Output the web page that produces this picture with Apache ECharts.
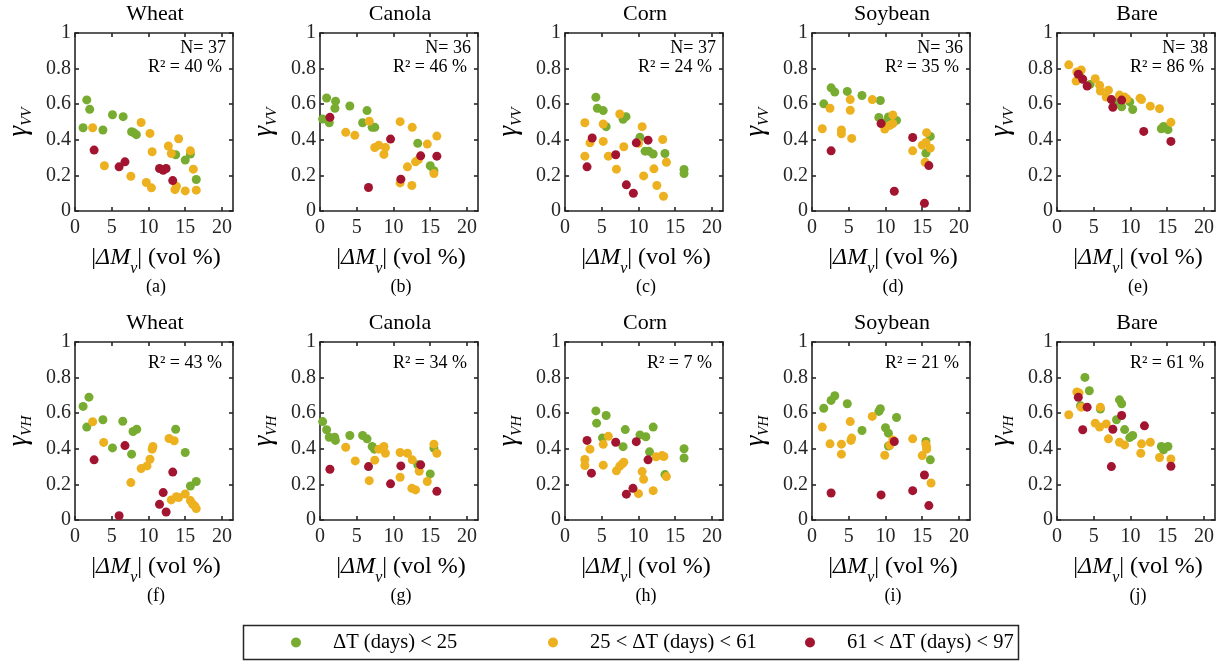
<!DOCTYPE html>
<html>
<head>
<meta charset="utf-8">
<script src="https://cdn.jsdelivr.net/npm/echarts@6/dist/echarts.min.js"></script>
<style>html,body{margin:0;padding:0;background:#fff}#c{width:1229px;height:662px}</style>
</head>
<body>
<div id="c"></div>
<script>
// ---------- DATA ----------
const crops = ['Wheat', 'Canola', 'Corn', 'Soybean', 'Bare'];
const pols = ['VV', 'VH'];
const nCounts = [37, 36, 37, 36, 38];
const r2VV = [40, 46, 24, 35, 86];
const r2VH = [43, 34, 7, 21, 61];
const captions = ['(a)', '(b)', '(c)', '(d)', '(e)', '(f)', '(g)', '(h)', '(i)', '(j)'];
const classNames = ['\u0394T (days) < 25', '25 < \u0394T (days) < 61', '61 < \u0394T (days) < 97'];
const xTicks = [0, 5, 10, 15, 20];
const yTicks = [0, 0.2, 0.4, 0.6, 0.8, 1];

// Wheat VV
const wheatVV_g = [[1.6,0.624],[2.0,0.571],[1.1,0.468],[3.8,0.455],[5.1,0.541],[6.55,0.53],[7.7,0.445],[8.0,0.44],[8.35,0.429],[13.7,0.316],[15.0,0.286],[15.7,0.32],[16.5,0.177]];
const wheatVV_o = [[2.4,0.468],[4.0,0.254],[7.6,0.195],[9.0,0.497],[10.2,0.436],[10.5,0.333],[9.7,0.16],[10.4,0.13],[12.7,0.365],[13.1,0.323],[14.1,0.406],[15.7,0.338],[16.1,0.235],[13.6,0.12],[13.8,0.139],[15.0,0.113],[16.5,0.117]];
const wheatVV_r = [[2.6,0.342],[6.0,0.248],[6.8,0.276],[11.5,0.239],[12.0,0.229],[12.4,0.239],[13.3,0.171]];
// Canola VV
const canolaVV_g = [[0.36,0.517],[0.9,0.635],[1.26,0.496],[2.03,0.577],[2.12,0.617],[4.06,0.59],[6.4,0.564],[5.8,0.496],[7.1,0.47],[7.45,0.47],[13.3,0.38],[15.0,0.254],[15.5,0.226]];
const canolaVV_o = [[3.5,0.442],[4.74,0.425],[6.7,0.504],[7.45,0.357],[8.0,0.37],[8.9,0.357],[8.7,0.318],[10.9,0.502],[12.55,0.47],[11.9,0.248],[13.0,0.276],[13.4,0.289],[14.6,0.376],[15.9,0.421],[15.5,0.21],[10.9,0.158],[12.5,0.143]];
const canolaVV_r = [[1.35,0.526],[9.6,0.404],[6.6,0.132],[11.0,0.179],[13.7,0.31],[15.9,0.308]];
// Corn VV
const cornVV_g = [[4.2,0.639],[4.4,0.577],[5.2,0.564],[5.6,0.474],[7.9,0.515],[8.3,0.53],[10.2,0.414],[10.9,0.336],[11.4,0.336],[12.0,0.32],[13.6,0.323],[16.2,0.233],[16.2,0.21]];
const cornVV_o = [[2.7,0.496],[2.7,0.308],[3.4,0.383],[5.2,0.489],[5.2,0.391],[5.9,0.308],[7.0,0.235],[7.45,0.545],[8.0,0.361],[10.0,0.38],[10.5,0.474],[10.7,0.197],[12.1,0.237],[12.5,0.143],[13.3,0.402],[13.8,0.274],[13.4,0.083]];
const cornVV_r = [[3.0,0.248],[3.7,0.41],[6.9,0.316],[8.35,0.147],[9.3,0.1],[9.7,0.383],[11.3,0.398]];
// Soybean VV
const soyVV_g = [[1.6,0.602],[2.6,0.692],[3.1,0.668],[4.8,0.672],[6.8,0.649],[9.3,0.621],[9.1,0.525],[10.4,0.528],[10.2,0.504],[11.5,0.509],[15.5,0.325],[16.1,0.419]];
const soyVV_o = [[1.4,0.462],[2.45,0.577],[4.0,0.455],[4.0,0.434],[5.2,0.626],[5.2,0.566],[5.4,0.408],[8.2,0.626],[9.9,0.46],[10.6,0.481],[11.0,0.491],[11.0,0.54],[13.7,0.338],[15.0,0.37],[15.5,0.385],[15.6,0.44],[16.1,0.353],[15.4,0.274]];
const soyVV_r = [[2.6,0.338],[9.4,0.491],[13.7,0.413],[15.9,0.255],[11.2,0.111],[15.3,0.043]];
// Bare VV
const bareVV_g = [[3.1,0.762],[3.2,0.745],[4.5,0.711],[8.0,0.613],[8.8,0.585],[9.9,0.613],[10.3,0.57],[14.2,0.462],[14.5,0.475],[15.1,0.457]];
const bareVV_o = [[1.6,0.821],[2.7,0.781],[3.0,0.77],[3.3,0.792],[2.6,0.73],[3.0,0.743],[5.2,0.743],[5.8,0.706],[5.9,0.674],[7.0,0.679],[6.7,0.64],[8.5,0.651],[9.2,0.64],[9.5,0.63],[11.3,0.634],[11.5,0.626],[12.7,0.589],[13.95,0.575],[15.5,0.498],[8.9,0.626]];
const bareVV_r = [[2.9,0.768],[3.5,0.74],[4.1,0.702],[7.4,0.626],[7.6,0.583],[8.8,0.623],[11.8,0.447],[15.5,0.391]];
// Wheat VH
const wheatVH_g = [[1.1,0.638],[1.9,0.69],[1.6,0.522],[3.8,0.563],[5.1,0.405],[6.5,0.555],[7.7,0.37],[7.9,0.497],[8.4,0.51],[13.7,0.51],[15.0,0.379],[15.7,0.191],[16.5,0.216]];
const wheatVH_o = [[2.4,0.552],[3.9,0.436],[7.6,0.21],[9.0,0.289],[9.8,0.304],[10.2,0.341],[10.5,0.398],[10.6,0.413],[12.8,0.458],[13.5,0.445],[13.1,0.113],[13.8,0.131],[14.1,0.126],[15.0,0.146],[15.7,0.109],[16.0,0.09],[16.3,0.079],[16.5,0.064]];
const wheatVH_r = [[2.6,0.338],[6.0,0.024],[6.8,0.418],[11.5,0.088],[12.0,0.154],[12.4,0.045],[13.3,0.269]];
// Canola VH
const canolaVH_g = [[0.36,0.553],[0.9,0.507],[1.26,0.465],[2.0,0.465],[2.1,0.447],[4.06,0.475],[5.8,0.475],[6.4,0.456],[7.1,0.413],[7.4,0.398],[13.3,0.31],[15.0,0.259],[15.5,0.404]];
const canolaVH_o = [[3.5,0.409],[4.8,0.332],[6.7,0.221],[7.45,0.336],[8.0,0.398],[8.7,0.413],[8.9,0.375],[10.9,0.379],[10.9,0.24],[11.9,0.375],[12.55,0.338],[12.5,0.178],[13.0,0.169],[13.5,0.274],[14.6,0.216],[15.5,0.426],[15.9,0.375]];
const canolaVH_r = [[1.35,0.285],[6.6,0.3],[9.6,0.203],[11.0,0.304],[13.7,0.31],[15.9,0.161]];
// Corn VH
const cornVH_g = [[4.2,0.613],[4.3,0.544],[5.6,0.587],[5.1,0.461],[7.9,0.412],[8.2,0.508],[10.2,0.478],[11.0,0.468],[11.5,0.383],[12.0,0.522],[13.6,0.255],[16.2,0.4],[16.2,0.348]];
const cornVH_o = [[2.7,0.34],[2.7,0.306],[3.4,0.398],[5.2,0.425],[5.9,0.47],[5.2,0.308],[7.0,0.276],[7.45,0.303],[7.8,0.315],[8.0,0.325],[10.0,0.148],[10.5,0.272],[10.7,0.229],[12.0,0.165],[12.4,0.355],[13.2,0.362],[13.45,0.357],[13.8,0.244]];
const cornVH_r = [[3.0,0.447],[3.6,0.263],[6.9,0.437],[8.35,0.145],[9.25,0.178],[9.7,0.44],[11.3,0.338]];
// Soybean VH
const soyVH_g = [[1.6,0.628],[2.6,0.672],[3.1,0.698],[4.8,0.653],[6.8,0.503],[9.1,0.61],[9.3,0.625],[10.0,0.518],[10.4,0.488],[10.4,0.416],[11.5,0.576],[15.5,0.441],[16.1,0.338]];
const soyVH_o = [[1.4,0.522],[2.45,0.428],[4.0,0.426],[4.0,0.37],[5.2,0.553],[5.3,0.447],[5.4,0.46],[8.2,0.582],[9.9,0.364],[10.6,0.42],[11.0,0.45],[13.7,0.456],[15.0,0.362],[15.5,0.426],[15.6,0.409],[15.6,0.398],[16.2,0.208]];
const soyVH_r = [[2.6,0.152],[9.4,0.141],[11.2,0.441],[13.7,0.165],[15.3,0.253],[15.9,0.081]];
// Bare VH
const bareVH_g = [[3.8,0.801],[4.4,0.726],[3.2,0.642],[5.9,0.623],[8.1,0.563],[8.5,0.675],[8.8,0.653],[9.2,0.508],[9.9,0.463],[10.3,0.475],[14.2,0.413],[14.5,0.394],[15.1,0.413]];
const bareVH_o = [[1.6,0.591],[2.7,0.719],[3.0,0.714],[3.3,0.634],[5.2,0.544],[5.8,0.522],[5.9,0.634],[6.7,0.54],[7.0,0.456],[8.5,0.437],[9.2,0.422],[11.4,0.375],[11.5,0.428],[12.7,0.437],[13.95,0.351],[15.5,0.343]];
const bareVH_r = [[2.9,0.689],[3.5,0.507],[4.1,0.634],[7.4,0.3],[7.6,0.51],[8.8,0.587],[11.9,0.529],[15.5,0.302]];

const panelData = [
  [wheatVV_g, wheatVV_o, wheatVV_r], [canolaVV_g, canolaVV_o, canolaVV_r], [cornVV_g, cornVV_o, cornVV_r],
  [soyVV_g, soyVV_o, soyVV_r], [bareVV_g, bareVV_o, bareVV_r],
  [wheatVH_g, wheatVH_o, wheatVH_r], [canolaVH_g, canolaVH_o, canolaVH_r], [cornVH_g, cornVH_o, cornVH_r],
  [soyVH_g, soyVH_o, soyVH_r], [bareVH_g, bareVH_o, bareVH_r]
];

// ---------- LAYOUT / STYLE ----------
const FONT = '"Liberation Serif", "Times New Roman", serif';
const AX = '#262626';
const COLORS = ['#77ac30', '#edb120', '#a2142f'];
const LEFTS = [75, 320, 565, 812, 1057];
const TOPS = [33, 342];
const W = 158, H = 178;
const XMAX = 21.5;
const LEGEND_LEFTS = [291, 548, 805];

const grids = [], xAxes = [], yAxes = [], series = [], graphics = [];
const lineStyle = { color: AX, width: 1.6 };

for (let p = 0; p < 10; p++) {
  const row = Math.floor(p / 5), col = p % 5;
  grids.push({ left: LEFTS[col], top: TOPS[row], width: W, height: H, containLabel: false });
}
for (let p = 0; p < 10; p++) {
  xAxes.push({
    gridIndex: p, type: 'value', min: 0, max: XMAX, interval: 5, position: 'bottom',
    axisLine: { show: true, onZero: false, lineStyle },
    axisTick: { show: true, inside: true, length: 4, lineStyle },
    axisLabel: { show: true, margin: 7, color: AX, fontFamily: FONT, fontSize: 20, showMaxLabel: false,
      formatter: v => (xTicks.indexOf(v) >= 0 ? String(v) : '') },
    splitLine: { show: false }
  });
}
for (let p = 0; p < 10; p++) {
  xAxes.push({
    gridIndex: p, type: 'value', min: 0, max: XMAX, interval: 5, position: 'top',
    axisLine: { show: true, onZero: false, lineStyle },
    axisTick: { show: true, inside: true, length: 4, lineStyle },
    axisLabel: { show: false }, splitLine: { show: false }
  });
}
for (let p = 0; p < 10; p++) {
  yAxes.push({
    gridIndex: p, type: 'value', min: 0, max: 1, interval: 0.2, position: 'left',
    axisLine: { show: true, onZero: false, lineStyle },
    axisTick: { show: true, inside: true, length: 4, lineStyle },
    axisLabel: { show: true, margin: 4, color: AX, fontFamily: FONT, fontSize: 20,
      formatter: v => { const t = yTicks.find(k => Math.abs(k - v) < 1e-6); return t === undefined ? '' : String(t); } },
    splitLine: { show: false }
  });
}
for (let p = 0; p < 10; p++) {
  yAxes.push({
    gridIndex: p, type: 'value', min: 0, max: 1, interval: 0.2, position: 'right',
    axisLine: { show: true, onZero: false, lineStyle },
    axisTick: { show: true, inside: true, length: 4, lineStyle },
    axisLabel: { show: false }, splitLine: { show: false }
  });
}
for (let p = 0; p < 10; p++) {
  for (let k = 0; k < 3; k++) {
    series.push({
      type: 'scatter', name: classNames[k], xAxisIndex: p, yAxisIndex: p,
      data: panelData[p][k], symbol: 'circle', symbolSize: 9,
      itemStyle: { color: COLORS[k], opacity: 1 }, z: 3, silent: true
    });
  }
}

for (let p = 0; p < 10; p++) {
  const row = Math.floor(p / 5), col = p % 5;
  const L = LEFTS[col], T = TOPS[row];
  const cx = L + 80;
  graphics.push({ type: 'text', x: cx, y: T - 19, style: { text: crops[col], font: '22px ' + FONT, fill: '#000', align: 'center', verticalAlign: 'middle', textAlign: 'center', textVerticalAlign: 'middle' } });
  if (row === 0) {
    graphics.push({ type: 'text', x: L + 151, y: T + 15, style: { text: 'N= ' + nCounts[col], font: '18px ' + FONT, fill: '#000', align: 'right', verticalAlign: 'middle', textAlign: 'right', textVerticalAlign: 'middle' } });
    graphics.push({ type: 'text', x: L + 147, y: T + 34, style: { text: 'R\u00b2 = ' + r2VV[col] + ' %', font: '18px ' + FONT, fill: '#000', align: 'right', verticalAlign: 'middle', textAlign: 'right', textVerticalAlign: 'middle' } });
  } else {
    graphics.push({ type: 'text', x: L + 147, y: T + 21, style: { text: 'R\u00b2 = ' + r2VH[col] + ' %', font: '18px ' + FONT, fill: '#000', align: 'right', verticalAlign: 'middle', textAlign: 'right', textVerticalAlign: 'middle' } });
  }
  graphics.push({ type: 'text', x: L - 56, y: T + H / 2, rotation: Math.PI / 2,
    style: { text: '{g|\u03b3}{s|' + pols[row] + '}', align: 'center', verticalAlign: 'middle', textAlign: 'center', textVerticalAlign: 'middle',
      rich: { g: { fontFamily: FONT, fontSize: 27, fontStyle: 'italic', fill: '#000' },
              s: { fontFamily: FONT, fontSize: 15, fontStyle: 'italic', fill: '#000', padding: [16, 0, 0, 0] } } } });
  graphics.push({ type: 'text', x: L + 81, y: T + H + 47,
    style: { text: '{n||}{i|\u0394M}{s|v}{n|| (vol %)}', align: 'center', verticalAlign: 'middle', textAlign: 'center', textVerticalAlign: 'middle',
      rich: { n: { fontFamily: FONT, fontSize: 24, fill: '#000' },
              i: { fontFamily: FONT, fontSize: 24, fontStyle: 'italic', fill: '#000' },
              s: { fontFamily: FONT, fontSize: 16, fontStyle: 'italic', fill: '#000', padding: [22, 0, 0, 0] } } } });
  graphics.push({ type: 'text', x: L + 81, y: T + H + 76, style: { text: captions[p], font: '18px ' + FONT, fill: '#000', align: 'center', verticalAlign: 'middle', textAlign: 'center', textVerticalAlign: 'middle' } });
}
// legend frame
graphics.push({ type: 'rect', shape: { x: 243.5, y: 625.5, width: 775, height: 34 }, style: { fill: 'none', stroke: AX, lineWidth: 1.5 }, z: 10 });

const legends = classNames.map((nm, k) => ({
  data: [nm], left: LEGEND_LEFTS[k], top: 632, padding: 0,
  icon: 'circle', itemWidth: 10, itemHeight: 10,
  textStyle: { fontFamily: FONT, fontSize: 20.5, color: '#000', padding: [0, 0, 0, 27] },
  selectedMode: false
}));

const chart = echarts.init(document.getElementById('c'), null, { renderer: 'canvas' });
chart.setOption({
  backgroundColor: '#fff',
  animation: false,
  grid: grids, xAxis: xAxes, yAxis: yAxes, series,
  legend: legends,
  graphic: graphics
});
</script>
</body>
</html>
